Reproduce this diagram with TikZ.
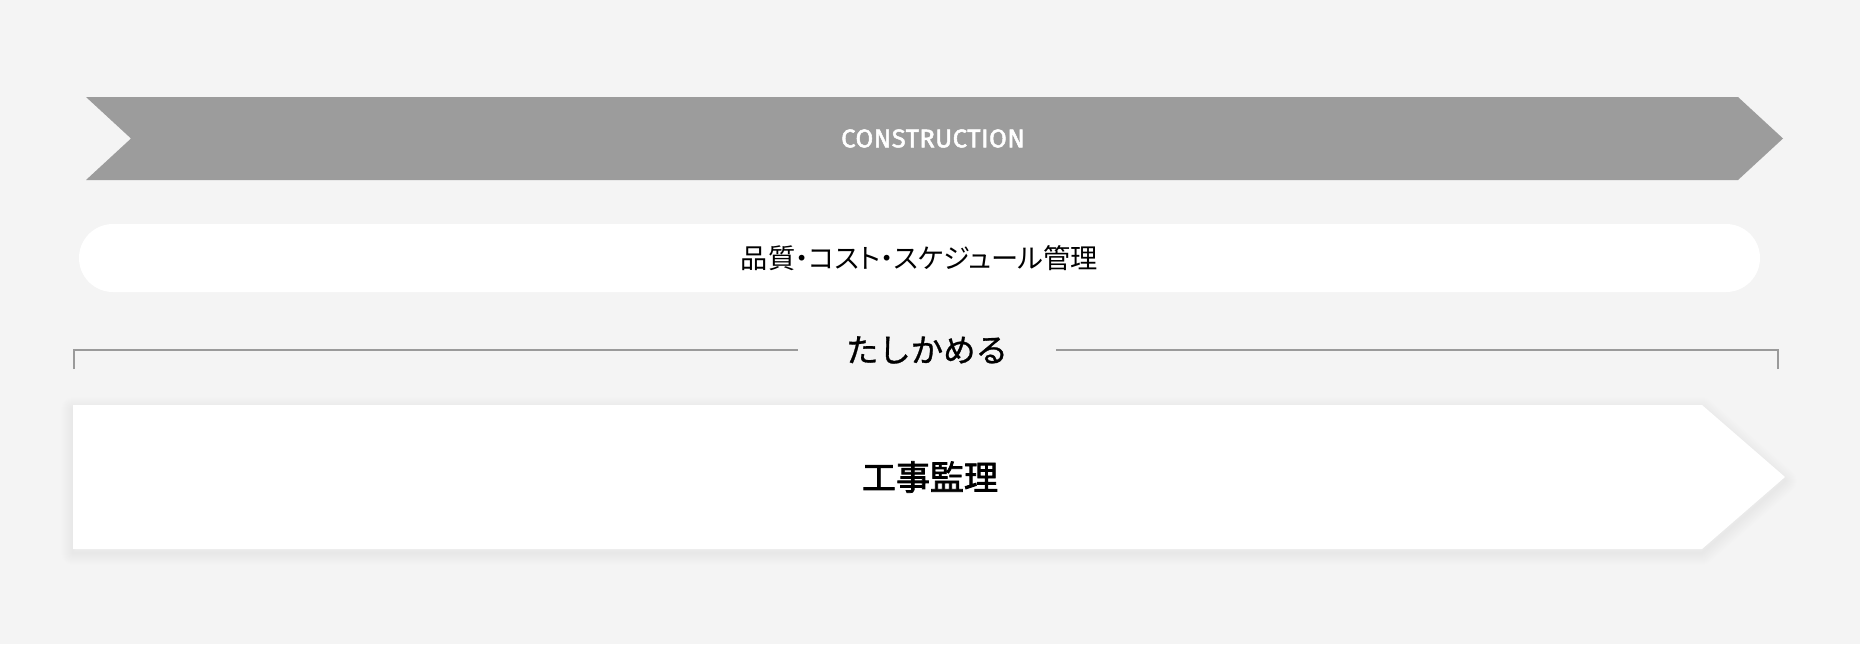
\documentclass[tikz,border=0pt]{standalone}
\usepackage{fontspec}
\setmainfont{Noto Sans CJK JP}
\newfontfamily\latinfont[FakeBold=2, LetterSpace=2]{Fira Sans}
\newfontfamily\jpfont[RawFeature=+palt]{Noto Sans CJK JP}
\newfontfamily\jpmedium[FakeBold=0.9]{Noto Sans CJK JP}
\newfontfamily\jpstrong[FakeBold=2.2]{Noto Sans CJK JP}
\usetikzlibrary{positioning}
\definecolor{bggray}{HTML}{F4F4F4}
\definecolor{bandgray}{HTML}{9C9C9C}
\definecolor{rulegray}{HTML}{9A9A9A}

\tikzset{
  phaselabel/.style={text=white, font=\latinfont\fontsize{12.8}{13}\selectfont},
  pill/.style={fill=white, rounded corners=17pt, minimum width=840.5pt,
    minimum height=34pt, font=\jpfont\fontsize{13.6}{14}\selectfont},
  checklabel/.style={inner xsep=24pt, font=\jpmedium\fontsize{16.2}{17}\selectfont},
  mainlabel/.style={font=\jpstrong\fontsize{17}{18}\selectfont}
}

\begin{document}
\begin{tikzpicture}[x=0.5pt,y=-0.5pt]

% Background
\fill[bggray] (0,0) rectangle (1860,644);
\useasboundingbox (0,0) rectangle (1860,644);

% Construction band
\fill[bandgray] (86,97) -- (1738,97) -- (1783,138.5) -- (1738,180)
    -- (86,180) -- (131,138.5) -- cycle;
\node[phaselabel] (phase) at (933,138.5) {CONSTRUCTION};

% Management bar
\node[pill] (task) at (919.5,258) {品質・コスト・スケジュール管理};

% Bracket
\node[checklabel] (check) at (927,350) {たしかめる};
\coordinate (bl) at (74,369);
\coordinate (br) at (1778,369);
\draw[rulegray, line width=1.4pt] (bl) |- (check.west);
\draw[rulegray, line width=1.4pt] (br) |- (check.east);

% Soft shadow of the main arrow
\foreach \w in {2,4,...,24}
  \draw[black, draw opacity=0.0045, line width=\w*0.5pt, line join=round]
    (73,409) -- (1702,409) -- (1785,481) -- (1702,553) -- (73,553) -- cycle;

% Main arrow
\fill[white] (73,405) -- (1702,405) -- (1785,477) -- (1702,549)
    -- (73,549) -- cycle;
\node[mainlabel] (main) at (930,477) {工事監理};

\end{tikzpicture}
\end{document}
